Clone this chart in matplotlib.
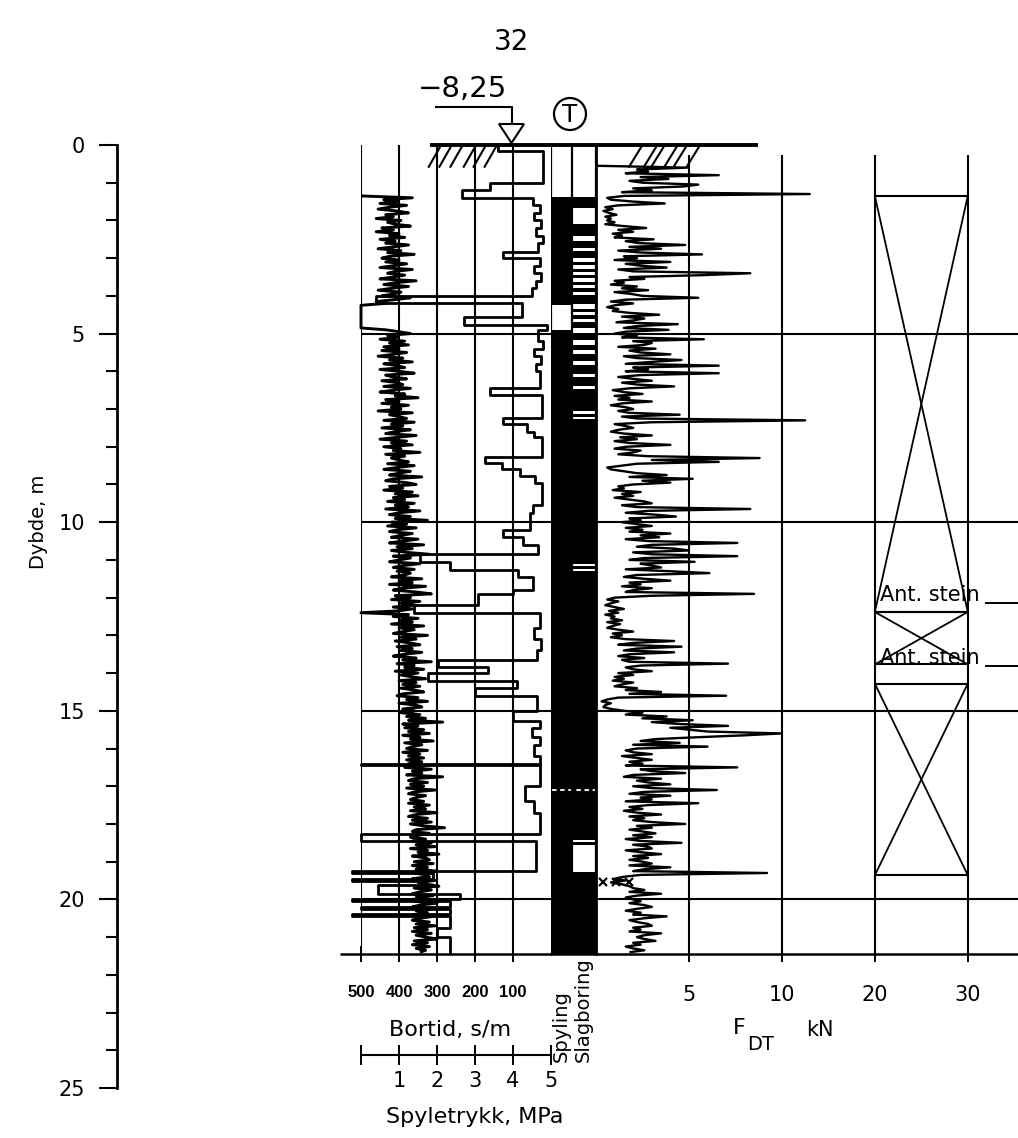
import numpy as np
import matplotlib
matplotlib.use("Agg")
import matplotlib.pyplot as plt
from matplotlib.patches import Circle, Polygon

plt.rcParams['font.family'] = ['DejaVu Sans']
plt.rcParams['lines.solid_capstyle'] = 'butt'

# ---------------- data ----------------
depth_major = [0, 5, 10, 15, 20, 25]
depth_grid = [5, 10, 15, 20]
end_depth = 21.45

bortid_ticks = [500, 400, 300, 200, 100]
spyle_ticks = [0, 1, 2, 3, 4, 5]
spyle_ticklabels = ["", "1", "2", "3", "4", "5"]
fdt_ticks = [5, 10, 20, 30]

# drilling time (s/m), constant within each interval starting at bortid_top
bortid_top = [0.00, 0.15, 1.00, 1.20, 1.40, 1.60, 1.80, 2.00, 2.20, 2.40,
              2.60, 2.83, 3.00, 3.20, 3.40, 3.60, 3.80, 4.00, 4.20, 4.55,
              4.78, 4.90, 5.20, 5.40, 5.60, 5.80, 6.00, 6.45, 6.63, 7.25,
              7.40, 7.60, 7.75, 8.26, 8.44, 8.60, 8.78, 8.95, 9.55, 9.75,
              10.20, 10.40, 10.60, 10.85, 11.05, 11.27, 11.45, 11.80, 11.90, 12.20,
              12.42, 12.80, 13.10, 13.40, 13.65, 13.85, 14.00, 14.20, 14.40, 14.60,
              15.00, 15.27, 15.45, 15.70, 15.90, 16.20, 16.40, 16.45, 17.00, 17.40,
              17.70, 18.27, 18.45, 19.25, 19.30, 19.45, 19.50, 19.62, 19.85, 20.00,
              20.05, 20.20, 20.25, 20.40, 20.45, 20.75, 21.00]
bortid_sm = [140, 20, 160, 235, 47, 30, 45, 25, 40, 22,
             35, 126, 30, 45, 25, 40, 50, 460, 75, 230,
             10, 35, 22, 45, 25, 40, 28, 160, 24, 126,
             63, 45, 24, 174, 129, 82, 42, 24, 47, 55,
             126, 74, 34, 345, 266, 87, 47, 100, 192, 360,
             30, 45, 25, 38, 297, 166, 324, 89, 200, 37,
             100, 30, 50, 28, 45, 30, 500, 30, 68, 45,
             28, 500, 40, 525, 310, 525, 330, 455, 240, 525,
             266, 500, 266, 525, 266, 300, 266]

# flushing pressure (MPa), every 0.05 m from 1.35 m
spyle_start, spyle_step = 1.35, 0.05
spyle_mpa = [0.00,
    1.35, 0.60, 0.95, 0.50, 1.20, 0.75, 0.45, 0.95, 1.25, 0.65, 0.85, 0.40, 1.05, 0.70, 0.90, 1.30, 0.55, 0.85, 0.40, 1.00,
    0.75, 1.15, 0.50, 0.90, 0.65, 1.25, 0.85, 0.45, 1.05, 0.70, 1.40, 0.75, 0.55, 1.00, 0.65, 1.20, 0.85, 0.50, 1.35, 0.90,
    0.70, 1.15, 0.85, 0.50, 1.45, 0.90, 0.60, 1.25, 0.80, 0.45, 1.05, 0.85, 0.55, 1.30, 0.90, 0.40, 0.65, 0.00, 0.00, 0.00,
    0.00, 0.00, 0.00, 0.00, 0.00, 0.00, 0.00, 0.00, 0.00, 0.00, 0.65, 1.00, 1.30, 0.70, 0.95, 0.50, 1.15, 0.75, 1.25, 0.60,
    1.00, 0.55, 1.20, 0.85, 0.45, 1.10, 0.75, 1.35, 0.60, 0.95, 1.15, 0.50, 1.00, 1.40, 0.65, 0.85, 1.20, 0.55, 0.95, 1.10,
    0.60, 1.30, 0.85, 0.50, 1.15, 0.90, 1.50, 0.65, 1.00, 0.55, 1.25, 0.80, 1.05, 0.45, 1.35, 0.75, 1.00, 1.20, 0.60, 1.40,
    0.80, 1.10, 0.55, 1.30, 0.90, 0.65, 1.45, 0.95, 0.50, 1.20, 0.80, 1.35, 0.60, 1.05, 0.85, 1.55, 0.65, 1.15, 0.80, 1.00,
    1.25, 0.70, 1.40, 0.95, 0.60, 1.30, 1.00, 0.75, 1.60, 0.85, 0.65, 1.20, 1.45, 0.75, 1.10, 0.60, 1.35, 0.90, 1.50, 0.85,
    1.15, 0.70, 1.40, 0.90, 1.25, 0.65, 1.55, 1.00, 0.75, 1.30, 0.90, 1.75, 0.80, 1.20, 0.70, 1.45, 0.95, 0.75, 1.35, 1.05,
    0.80, 1.50, 1.10, 0.75, 1.65, 0.95, 1.35, 0.80, 1.20, 1.80, 0.85, 1.30, 1.00, 0.75, 1.55, 1.10, 0.85, 1.40, 0.95, 1.30,
    1.15, 0.80, 1.60, 1.00, 1.35, 0.75, 1.70, 1.10, 0.85, 1.45, 1.85, 0.90, 1.30, 0.80, 1.55, 1.05, 1.40, 0.85, 1.35, 1.00,
    0.00, 1.25, 0.85, 1.50, 1.05, 1.35, 0.80, 1.65, 1.00, 1.40, 1.10, 0.85, 1.75, 1.05, 1.45, 0.90, 1.30, 1.55, 0.95, 1.35,
    1.05, 1.60, 1.15, 0.85, 1.45, 1.10, 1.85, 0.95, 1.40, 1.15, 1.65, 0.90, 1.50, 1.05, 1.35, 1.70, 1.00, 1.45, 1.10, 1.55,
    1.05, 1.40, 1.65, 1.10, 0.95, 1.50, 1.20, 1.75, 1.00, 1.45, 1.60, 1.10, 1.40, 1.05, 1.55, 1.20, 1.70, 1.25, 2.15, 1.10,
    1.50, 1.15, 1.65, 1.25, 1.80, 1.10, 1.55, 1.30, 1.90, 1.15, 1.60, 1.35, 1.20, 1.75, 1.10, 1.55, 1.25, 1.65, 1.20, 1.60,
    1.25, 1.70, 1.15, 1.85, 1.35, 1.60, 1.20, 2.15, 1.40, 1.25, 1.75, 1.30, 1.65, 1.20, 1.95, 1.40, 1.25, 1.70, 1.45, 1.30,
    1.65, 1.25, 1.80, 1.40, 1.70, 1.30, 2.00, 1.45, 1.25, 1.75, 1.35, 1.85, 1.30, 1.65, 2.20, 1.45, 1.35, 1.80, 1.50, 1.30,
    1.70, 1.35, 1.85, 1.45, 1.95, 1.30, 1.75, 1.50, 2.05, 1.35, 1.70, 1.80, 1.40, 1.90, 1.35, 1.75, 1.45, 2.00, 1.40, 1.70,
    1.80, 1.35, 1.95, 1.50, 1.75, 2.05, 1.40, 1.85, 1.55, 1.35, 1.90, 1.45, 1.80, 1.40, 2.00, 1.55, 1.35, 1.85, 1.45, 1.75,
    1.40, 1.90, 1.55, 1.35, 1.80, 1.45, 1.95, 1.40, 1.75, 1.35, 1.85, 1.45, 1.70, 2.00, 1.40, 1.75, 1.35, 1.80, 1.45, 1.70,
    1.55]

# thrust force F_DT (kN), every 0.05 m from 0.55 m
fdt_start, fdt_step = 0.55, 0.05
fdt_kn = [0.0,
    4.9, 2.2, 2.8, 1.6, 6.6, 2.4, 3.9, 1.8,
    2.5, 5.5, 4.7, 2.0, 3.0, 1.4, 13.0, 1.5, 0.6, 0.8, 2.0, 3.7, 1.2, 0.5, 0.9, 0.4, 0.7, 1.1, 0.5, 0.8,
    0.6, 1.0, 0.5, 1.5, 2.7, 1.2, 2.0, 0.9, 1.4, 1.0, 3.1, 1.6, 2.3, 4.8, 1.8, 3.5, 1.2, 2.4, 5.7, 1.5,
    2.2, 1.0, 4.0, 1.6, 2.4, 3.8, 1.2, 2.0, 8.3, 5.8, 1.8, 2.6, 1.0, 1.5, 0.8, 2.2, 1.4, 2.8, 1.0, 1.9,
    2.5, 5.5, 1.6, 0.8, 2.0, 1.0, 0.6, 1.2, 0.9, 1.8, 3.4, 1.4, 2.6, 2.0, 1.1, 4.4, 2.2, 1.5, 3.9, 1.6,
    1.0, 2.2, 1.4, 5.8, 2.0, 3.0, 2.6, 1.2, 3.2, 1.8, 2.4, 4.0, 1.5, 2.2, 4.6, 3.0, 1.6, 6.6, 2.0, 2.8,
    1.6, 6.6, 2.4, 1.2, 2.0, 3.0, 1.4, 2.2, 4.2, 1.8, 0.9, 1.5, 2.5, 1.0, 1.8, 1.2, 3.0, 1.4, 0.8, 1.6,
    2.0, 1.2, 1.8, 4.5, 1.4, 2.2, 12.5, 3.0, 1.0, 1.6, 2.0, 1.2, 0.8, 1.5, 3.0, 1.3, 2.2, 1.0, 1.8, 4.0,
    1.6, 1.0, 2.4, 2.0, 1.2, 2.8, 8.8, 3.0, 6.6, 2.2, 1.4, 0.6, 0.8, 1.5, 2.2, 3.8, 1.8, 5.2, 2.5, 4.0,
    2.0, 1.2, 1.5, 0.9, 2.4, 1.4, 2.0, 1.0, 1.8, 2.6, 3.0, 1.4, 2.2, 8.3, 2.8, 1.6, 3.2, 4.3, 1.8, 2.4,
    1.4, 2.2, 3.0, 1.6, 2.5, 1.8, 4.0, 2.4, 3.4, 1.6, 2.8, 7.6, 3.0, 2.2, 4.2, 5.0, 2.0, 3.0, 7.6, 2.6,
    1.8, 5.3, 2.4, 3.0, 3.5, 1.6, 4.0, 6.1, 2.2, 1.5, 2.6, 4.0, 1.8, 2.4, 1.4, 3.0, 2.0, 1.6, 8.5, 3.0,
    1.0, 0.6, 1.2, 0.8, 0.5, 1.0, 1.5, 0.7, 1.2, 0.5, 1.0, 0.8, 1.4, 0.6, 1.3, 0.9, 0.6, 1.2, 2.0, 0.9,
    1.4, 0.8, 1.6, 4.2, 2.0, 1.2, 4.6, 2.2, 1.5, 4.2, 1.8, 1.2, 2.6, 1.4, 1.8, 7.1, 2.4, 1.6, 2.0, 3.0,
    1.2, 2.0, 1.0, 1.5, 0.9, 2.0, 1.4, 1.0, 2.2, 1.6, 3.5, 1.8, 7.0, 1.2, 0.6, 0.3, 0.8, 0.5, 0.4, 0.8,
    1.5, 2.5, 1.6, 3.8, 2.5, 5.2, 3.0, 4.5, 7.1, 4.0, 5.0, 6.0, 10.0, 8.0, 5.5, 3.2, 2.4, 4.5, 2.0, 6.0,
    2.2, 1.6, 2.0, 3.0, 1.4, 2.2, 3.0, 1.8, 2.5, 1.6, 7.6, 2.4, 3.0, 4.8, 2.0, 1.5, 3.5, 2.2, 2.8, 4.0,
    2.0, 3.0, 6.5, 2.6, 1.8, 4.0, 2.4, 3.0, 1.6, 5.5, 2.8, 1.8, 2.5, 1.5, 2.2, 3.5, 1.8, 2.6, 2.0, 3.0,
    4.8, 2.2, 3.0, 1.8, 2.5, 3.2, 2.0, 3.0, 1.6, 2.4, 4.6, 2.0, 2.8, 3.0, 1.6, 2.4, 3.5, 2.0, 2.8, 1.8,
    2.5, 3.0, 1.8, 4.0, 2.6, 2.0, 9.2, 2.4, 1.5, 1.0, 1.6, 0.8, 1.4, 1.8, 2.0, 2.6, 1.8, 3.5, 2.2, 1.6,
    2.0, 2.4, 1.8, 2.6, 3.0, 2.2, 1.6, 2.4, 2.0, 3.8, 2.6, 1.8, 2.2, 2.8, 3.0, 2.0, 2.4, 1.8, 3.5, 2.6,
    2.2, 2.6, 3.2, 2.0, 2.4, 1.6, 2.0, 2.6, 1.8]

# drilling mode columns (depth intervals in m)
spyling_on = [(1.37, 4.25), (4.90, 21.45)]
slag_on = [(1.37, 21.45)]
slag_white = [(1.68, 2.10), (2.42, 2.55), (2.72, 2.82), (3.00, 3.10), (3.18, 3.28),
              (3.36, 3.44), (3.52, 3.64), (3.72, 3.80), (3.90, 3.98), (4.22, 4.34),
              (4.44, 4.52), (4.62, 4.70), (4.86, 4.98), (5.18, 5.30), (5.44, 5.54),
              (5.72, 5.84), (6.06, 6.16), (6.40, 6.48), (7.05, 7.12), (7.20, 7.26),
              (11.10, 11.16), (11.24, 11.30), (18.42, 18.47), (18.57, 19.28)]
mode_break_depth = 17.10

# interpreted stones (depth intervals)
stone_boxes = [(1.35, 12.38), (12.38, 13.77), (14.28, 19.36)]
stone_text_depth = [12.08, 13.75]
stone_marks_kn = [0.35, 1.05, 1.75]
stone_marks_depth = 19.55

# ---------------- layout ----------------
W, H, DPI = 1018, 1138, 100
D0_PX, D25_PX = 145, 1088

fig = plt.figure(figsize=(W / DPI, H / DPI), dpi=DPI)
fig.patch.set_facecolor('white')


def frame(x0_px, x1_px):
    ax = fig.add_axes([x0_px / W, 1 - D25_PX / H, (x1_px - x0_px) / W,
                       (D25_PX - D0_PX) / H])
    ax.set_ylim(25, 0)
    ax.patch.set_alpha(0)
    for s in ax.spines.values():
        s.set_visible(False)
    ax.tick_params(left=False, labelleft=False, bottom=False, labelbottom=False,
                   top=False, labeltop=False)
    return ax


K = 'black'

# ---- depth ruler ----
ax_d = frame(117, 118)
ax_d.spines['left'].set_visible(True)
ax_d.spines['left'].set_linewidth(2.0)
ax_d.set_yticks(depth_major)
ax_d.set_yticks(np.arange(0, 26, 1), minor=True)
ax_d.set_yticklabels([str(v) for v in depth_major])
ax_d.tick_params(axis='y', which='major', left=True, labelleft=True, length=13,
                 width=1.5, pad=10, labelsize=15)
ax_d.tick_params(axis='y', which='minor', left=True, length=8, width=1.5)
ax_d.set_xticks([])
fig.text(38 / W, 1 - 522 / H, "Dybde, m", rotation=90, ha='center', va='center',
         fontsize=14)

# ---- drilling time / flushing pressure panel ----
ax_b = frame(361, 551)
ax_s = ax_b.twiny()
ax_b.set_xlim(500, 0)
ax_b.set_ylim(25, 0)
ax_b.vlines(bortid_ticks, 0, end_depth, colors=K, lw=1.5)
ax_b.hlines(depth_grid, 500, 0, colors=K, lw=1.5)

xs, ys = [], []
bottoms = bortid_top[1:] + [end_depth]
for top, bot, v in zip(bortid_top, bottoms, bortid_sm):
    xs += [v, v]
    ys += [top, bot]
ax_b.plot(xs, ys, color=K, lw=2.0, clip_on=False)

ax_b.spines['bottom'].set_visible(True)
ax_b.spines['bottom'].set_position(('data', end_depth))
ax_b.spines['bottom'].set_linewidth(1.8)
ax_b.set_xticks(bortid_ticks)
ax_b.set_xticklabels([str(t) for t in bortid_ticks],
                     fontfamily=['Liberation Sans', 'DejaVu Sans'],
                     fontweight='bold', fontsize=12)
ax_b.tick_params(axis='x', bottom=True, labelbottom=True, top=False, labeltop=False,
                 direction='inout', length=11, width=1.4, pad=17)
ax_b.plot([555, 500], [end_depth, end_depth], color=K, lw=1.8, clip_on=False)

# flushing pressure on its own scale
ax_s.set_xlim(0, 5)
ax_s.set_ylim(25, 0)
for s in ax_s.spines.values():
    s.set_visible(False)
spyle_depth = spyle_start + spyle_step * np.arange(len(spyle_mpa))
ax_s.plot(spyle_mpa, spyle_depth, color=K, lw=2.1, clip_on=False)
ax_s.xaxis.tick_bottom()
ax_s.spines['bottom'].set_visible(True)
ax_s.spines['bottom'].set_position(('data', 24.12))
ax_s.spines['bottom'].set_linewidth(1.5)
ax_s.set_xticks(spyle_ticks)
ax_s.set_xticklabels(spyle_ticklabels, fontsize=15)
ax_s.tick_params(axis='x', bottom=True, labelbottom=True, top=False, labeltop=False,
                 direction='inout', length=14, width=1.4, pad=5)

# ground surface and hatching (bortid side)
ax_b.plot([318, 0], [0, 0], color=K, lw=2.8, clip_on=False)
for b in [289, 261, 232, 197, 171, 142]:
    ax_b.plot([b, b + 34], [0, 0.6], color=K, lw=1.5, clip_on=False)

# ---- drilling mode columns ----
ax_c = frame(551, 596)
ax_c.set_xlim(0, 2)
ax_c.set_ylim(25, 0)
split = 0.93
for a, b in spyling_on:
    ax_c.fill_betweenx([a, b], 0, split, color=K, lw=0)
for a, b in slag_on:
    ax_c.fill_betweenx([a, b], split, 2, color=K, lw=0)
for a, b in slag_white:
    ax_c.fill_betweenx([a, b], split + 0.05, 1.96, color='white', lw=0)
ax_c.hlines(mode_break_depth, 0.05, 1.95, colors='white', lw=1.3,
            linestyles=(0, (2.5, 2)))
ax_c.vlines([0, split, 2], 0, end_depth, colors=K, lw=1.6)
ax_c.plot([0, 2], [0, 0], color=K, lw=2.8, clip_on=False)
ax_c.spines['bottom'].set_visible(True)
ax_c.spines['bottom'].set_position(('data', end_depth))
ax_c.spines['bottom'].set_linewidth(1.8)
ax_c.set_xticks([])

# ---- thrust force panel ----
ax_f = frame(596, 1018)


def fwd(x):
    x = np.asarray(x, dtype=float)
    return np.where(x <= 10, x, 10 + (x - 10) / 2)


def inv(u):
    u = np.asarray(u, dtype=float)
    return np.where(u <= 10, u, 10 + (u - 10) * 2)


ax_f.set_xscale('function', functions=(fwd, inv))
ax_f.set_xlim(0, 35.4)
ax_f.set_ylim(25, 0)
ax_f.vlines([0], 0, end_depth, colors=K, lw=2.0)
ax_f.vlines(fdt_ticks, 0.27, end_depth, colors=K, lw=1.5)
ax_f.hlines(depth_grid, 0, 35.4, colors=K, lw=1.5)

fdt_depth = fdt_start + fdt_step * np.arange(len(fdt_kn))
ax_f.plot(fdt_kn, fdt_depth, color=K, lw=1.7, clip_on=False)

for a, b in stone_boxes:
    ax_f.plot([20, 30], [a, a], color=K, lw=1.5)
    ax_f.plot([20, 30], [b, b], color=K, lw=1.5)
    ax_f.plot([20, 30], [a, b], color=K, lw=1.3)
    ax_f.plot([30, 20], [a, b], color=K, lw=1.3)
for d in stone_text_depth:
    ax_f.text(20.6, d, "Ant. stein", fontsize=15, ha='left', va='baseline')
    ax_f.plot([31.8, 35.4], [d + 0.05, d + 0.05], color=K, lw=1.4, clip_on=False)
ax_f.plot(stone_marks_kn, [stone_marks_depth] * len(stone_marks_kn), ls='none',
          marker='x', ms=6, mew=1.6, color=K)

ax_f.plot([0, 8.7], [0, 0], color=K, lw=2.8, clip_on=False)
for f in [2.5, 3.3, 3.7, 4.4, 4.9, 5.6]:
    ax_f.plot([f, f - 0.75], [0, 0.6], color=K, lw=1.5, clip_on=False)

ax_f.spines['bottom'].set_visible(True)
ax_f.spines['bottom'].set_position(('data', end_depth))
ax_f.spines['bottom'].set_linewidth(1.8)
ax_f.set_xticks(fdt_ticks)
ax_f.set_xticklabels([str(t) for t in fdt_ticks], fontsize=15)
ax_f.xaxis.set_minor_locator(matplotlib.ticker.NullLocator())
ax_f.tick_params(axis='x', bottom=True, labelbottom=True, direction='inout',
                 length=11, width=1.4, pad=17)

# ---- annotations ----
ax_o = fig.add_axes([0, 0, 1, 1])
ax_o.set_xlim(0, W)
ax_o.set_ylim(H, 0)
ax_o.axis('off')
ax_o.patch.set_alpha(0)

ax_o.text(512, 42, "32", fontsize=20, ha='center', va='center')
ax_o.text(463, 89, "\u22128,25", fontsize=21, ha='center', va='center')
ax_o.plot([435, 512, 512], [107, 107, 124], color=K, lw=1.5)
ax_o.add_patch(Polygon([(499, 124), (524, 124), (511.5, 143)], closed=True,
                       fill=False, ec=K, lw=1.5))
ax_o.add_patch(Circle((570, 114), 16, fill=False, ec=K, lw=1.6))
ax_o.text(570, 115, "T", fontsize=18, ha='center', va='center')

ax_o.text(450, 1030, "Bortid, s/m", fontsize=16, ha='center', va='center')
ax_o.text(475, 1117, "Spyletrykk, MPa", fontsize=16, ha='center', va='center')
ax_o.text(561, 1062, "Spyling", fontsize=14, rotation=90, ha='center', va='bottom')
ax_o.text(583, 1062, "Slagboring", fontsize=14, rotation=90, ha='center', va='bottom')
ax_o.text(739, 1028, "F", fontsize=16, ha='center', va='center')
ax_o.text(761, 1045, "DT", fontsize=14, ha='center', va='center')
ax_o.text(820, 1030, "kN", fontsize=15, ha='center', va='center')

fig.savefig("out.png", dpi=DPI, facecolor='white')
